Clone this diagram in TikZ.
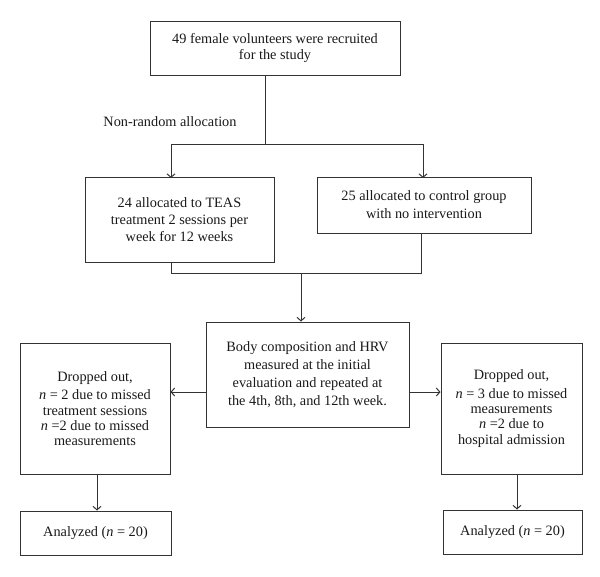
\documentclass[tikz,border=0pt]{standalone}
\usepackage{fontspec}
\setmainfont{Liberation Serif}
\usetikzlibrary{arrows.meta}
\begin{document}
\begin{tikzpicture}[x=1pt,y=-1pt,
  box/.style={draw=black!80,line width=1pt,align=center,inner sep=2pt,text=black!90,font=\fontsize{14.3}{17}\selectfont},
  arr/.style={draw=black!80,line width=1pt,-{Straight Barb[length=3.5pt,width=8pt]}},
  ln/.style={draw=black!80,line width=1pt}]
\useasboundingbox (0,0) rectangle (600,576);
\node[box,minimum width=250pt,minimum height=54pt,font=\fontsize{14.3}{16}\selectfont] (top) at (275,48) {49 female volunteers were recruited\\for the study};
\node[text=black!90,font=\fontsize{14.3}{17}\selectfont] (nr) at (170,122) {Non-random allocation};
\node[box,minimum width=189pt,minimum height=85pt] (teas) at (179.5,219.5) {24 allocated to TEAS\\treatment 2 sessions per\\week for 12 weeks};
\node[box,minimum width=214pt,minimum height=56pt,font=\fontsize{14.3}{18}\selectfont] (ctrl) at (424,205) {25 allocated to control group\\with no intervention};
\node[box,minimum width=203pt,minimum height=105pt,font=\fontsize{14.3}{18}\selectfont] (meas) at (307.5,374.5) {Body composition and HRV\\measured at the initial\\evaluation and repeated at\\the 4th, 8th, and 12th week.};
\node[box,minimum width=150pt,minimum height=131pt,font=\fontsize{14.3}{15.3}\selectfont] (dl) at (95,408.5) {Dropped out,\\[3.5pt]\textit{n} = 2 due to missed\\treatment sessions\\\textit{n} =2 due to missed\\measurements};
\node[box,minimum width=141pt,minimum height=131pt,font=\fontsize{14.3}{15.3}\selectfont] (dr) at (511.5,408.5) {Dropped out,\\[3.5pt]\textit{n} = 3 due to missed\\measurements\\\textit{n} =2 due to\\hospital admission};
\node[box,minimum width=151pt,minimum height=44pt] (al) at (95.5,533) {Analyzed (\textit{n} = 20)};
\node[box,minimum width=139pt,minimum height=44pt] (ar) at (512.5,532) {Analyzed (\textit{n} = 20)};
% split
\coordinate (s) at (265,144);
\coordinate (sl) at (171,144);
\coordinate (sr) at (423,144);
\draw[ln] (top.south -| s) -- (s);
\draw[ln] (sl) -- (sr);
\draw[arr] (sl) -- ([yshift=-1.5pt]sl |- teas.north);
\draw[arr] (sr) -- ([yshift=-1.5pt]sr |- ctrl.north);
% join
\coordinate (jl) at (171,273);
\coordinate (jr) at (421,273);
\coordinate (jm) at (301,273);
\draw[ln] (jl |- teas.south) -- (jl) -- (jr) -- (jr |- ctrl.south);
\draw[arr] (jm) -- (jm |- meas.north);
% side arrows
\coordinate (ay) at (0,392);
\draw[arr] (meas.west |- ay) -- (dl.east |- ay);
\draw[arr] (meas.east |- ay) -- (dr.west |- ay);
% down arrows
\coordinate (xl) at (97,0);
\coordinate (xr) at (517,0);
\draw[arr] (xl |- dl.south) -- (xl |- al.north);
\draw[arr] (xr |- dr.south) -- (xr |- ar.north);
\end{tikzpicture}
\end{document}
